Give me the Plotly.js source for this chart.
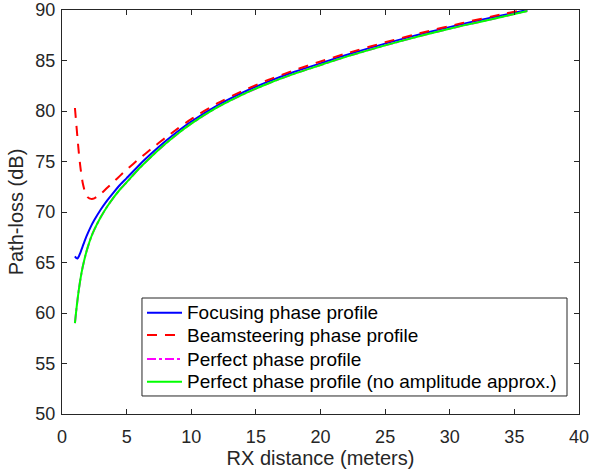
<!DOCTYPE html>
<html>
<head>
<meta charset="utf-8">
<script src="https://cdn.plot.ly/plotly-3.0.1.min.js"></script>
<style>
html,body{margin:0;padding:0;background:#fff;}
#chart{width:589px;height:474px;}
</style>
</head>
<body>
<div id="chart"></div>
<script>
// RX distance (meters)
const distance = [1, 1.1, 1.2, 1.3, 1.4, 1.5, 1.6, 1.8, 2, 2.25, 2.5, 3, 3.5, 4, 4.5, 5, 6, 7, 8, 9, 10, 12, 14, 16, 18, 20, 22, 25, 28, 31, 34, 36];
// Path-loss (dB)
const focusing     = [65.6, 65.45, 65.4, 65.6, 65.9, 66.25, 66.6, 67.3, 67.9, 68.6, 69.2, 70.25, 71.15, 71.95, 72.7, 73.35, 74.68, 75.88, 77.0, 78.02, 78.95, 80.53, 81.83, 82.93, 83.88, 84.72, 85.55, 86.67, 87.69, 88.61, 89.46, 90.0];
const beamsteering = [80.3, 78.8, 77.3, 75.9, 74.7, 73.7, 72.9, 71.9, 71.45, 71.3, 71.35, 71.8, 72.4, 73.0, 73.6, 74.2, 75.3, 76.35, 77.35, 78.3, 79.2, 80.75, 82.0, 83.1, 84.05, 84.9, 85.7, 86.8, 87.8, 88.72, 89.57, 90.1];
const perfect      = [59.0, 60.2, 61.3, 62.3, 63.15, 63.9, 64.55, 65.65, 66.55, 67.5, 68.25, 69.5, 70.55, 71.45, 72.25, 72.95, 74.35, 75.6, 76.75, 77.8, 78.75, 80.35, 81.65, 82.75, 83.7, 84.55, 85.38, 86.5, 87.52, 88.45, 89.3, 89.9];
const perfectNoAmp = [59.0, 60.2, 61.3, 62.3, 63.15, 63.9, 64.55, 65.65, 66.55, 67.5, 68.25, 69.5, 70.55, 71.45, 72.25, 72.95, 74.35, 75.6, 76.75, 77.8, 78.75, 80.35, 81.65, 82.75, 83.7, 84.55, 85.38, 86.5, 87.52, 88.45, 89.3, 89.9];

const seriesNames = ["Focusing phase profile", "Beamsteering phase profile", "Perfect phase profile", "Perfect phase profile (no amplitude approx.)"];
const seriesColors = ["#0000ff", "#ff0000", "#ff00ff", "#00ff00"];
const seriesDash = ["solid", "10px,8px", "dashdot", "solid"];
const xTicks = [0, 5, 10, 15, 20, 25, 30, 35, 40];
const yTicks = [50, 55, 60, 65, 70, 75, 80, 85, 90];

const FONT = "Liberation Sans, Arial, Helvetica, sans-serif";
const AX = "#262626";

const seriesValues = [focusing, beamsteering, perfect, perfectNoAmp];
const traces = seriesValues.map((vals, i) => ({
  x: distance, y: vals, name: seriesNames[i], mode: "lines",
  line: {color: seriesColors[i], width: 2, dash: seriesDash[i], shape: "spline", smoothing: 0.6},
  showlegend: false
}));

// legend drawn as a boxed key (MATLAB-style compact rows)
const legBox = {x0: 0.1547, x1: 0.9768, y0: 0.0446, y1: 0.2871};
const rowY = [0.2507, 0.1955, 0.1361, 0.0800];
const shapes = [{
  type: "rect", xref: "paper", yref: "paper",
  x0: legBox.x0, x1: legBox.x1, y0: legBox.y0, y1: legBox.y1,
  fillcolor: "#ffffff", line: {color: AX, width: 1}, layer: "above"
}];
const annotations = [];
seriesNames.forEach((nm, i) => {
  shapes.push({
    type: "line", xref: "paper", yref: "paper",
    x0: 0.1644, x1: 0.2321, y0: rowY[i], y1: rowY[i],
    line: {color: seriesColors[i], width: 2, dash: seriesDash[i]}, layer: "above"
  });
  annotations.push({
    xref: "paper", yref: "paper", x: 0.2385, y: rowY[i],
    xanchor: "left", yanchor: "middle", showarrow: false,
    text: nm, font: {family: FONT, size: 19, color: "#000"}
  });
});

const axisCommon = {
  showline: true, linecolor: AX, linewidth: 1, mirror: "ticks",
  ticks: "inside", ticklen: 5, tickcolor: AX, tickwidth: 1,
  showgrid: false, zeroline: false, ticklabeloverflow: "allow",
  tickfont: {family: FONT, size: 18, color: AX}
};

const layout = {
  width: 589, height: 474,
  margin: {l: 62, r: 10, t: 10, b: 60},
  paper_bgcolor: "#fff", plot_bgcolor: "#fff",
  showlegend: false,
  xaxis: Object.assign({}, axisCommon, {
    range: [0, 40], tickvals: xTicks, ticktext: xTicks.map(String),
    ticklabelstandoff: 6,
    title: {text: "RX distance (meters)", font: {family: FONT, size: 20, color: AX}, standoff: 2}
  }),
  yaxis: Object.assign({}, axisCommon, {
    range: [50, 90], tickvals: yTicks, ticktext: yTicks.map(String),
    ticklabelstandoff: 2,
    title: {text: "Path-loss (dB)", font: {family: FONT, size: 20, color: AX}, standoff: 6}
  }),
  shapes: shapes,
  annotations: annotations
};

Plotly.newPlot("chart", traces, layout, {displayModeBar: false, staticPlot: true});
</script>
</body>
</html>
